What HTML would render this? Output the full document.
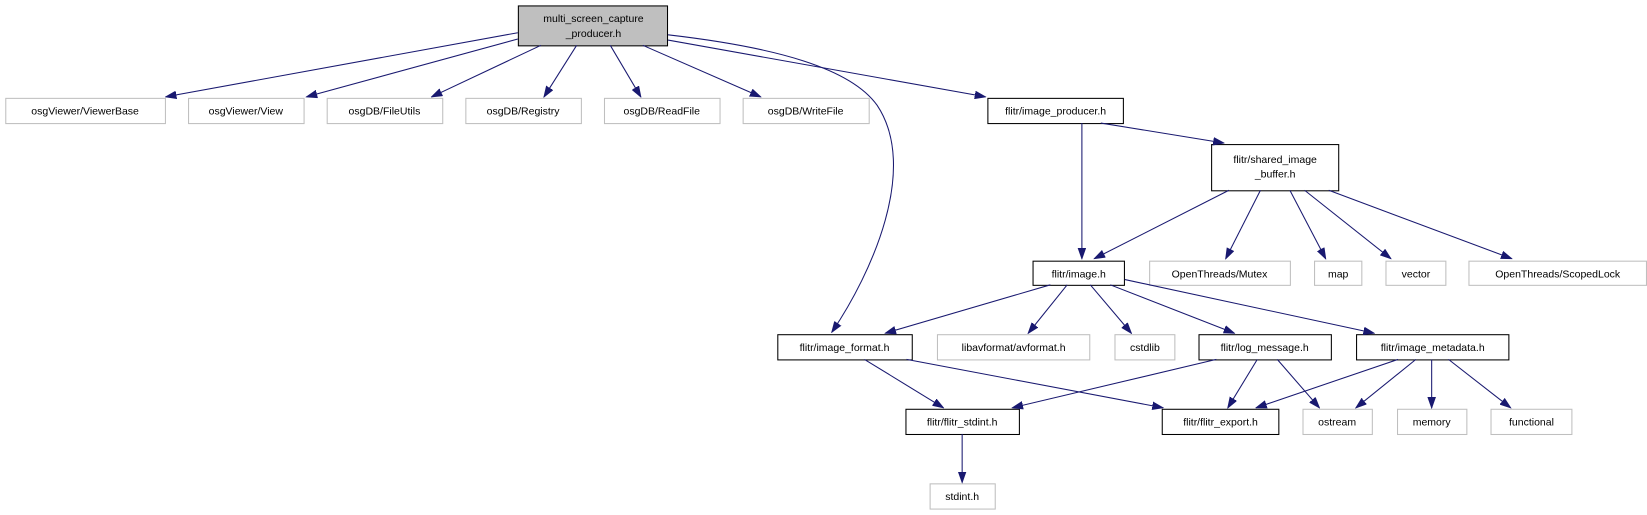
<!DOCTYPE html>
<html><head><meta charset="utf-8"><style>
html,body{margin:0;padding:0;background:#fff;}
svg{display:block;}
text{font-family:"Liberation Sans",sans-serif;font-size:10px;fill:#000;text-anchor:middle;}
.g{fill:#fff;stroke:#bfbfbf;stroke-width:1;}
.b{fill:#fff;stroke:#000;stroke-width:1;}
.e{stroke:#191970;stroke-width:1;fill:none;marker-end:url(#a);}
</style></head><body>
<svg width="1647" height="515" viewBox="0 0 1568 490" xmlns="http://www.w3.org/2000/svg">
<defs><marker id="a" markerUnits="userSpaceOnUse" markerWidth="11" markerHeight="8" refX="10" refY="4" orient="auto"><path d="M0,0.5 L10,4 L0,7.5 z" fill="#191970" stroke="#191970"/></marker></defs>
<rect x="493.5" y="5.5" width="142" height="38" fill="#bfbfbf" stroke="#000"/>
<text x="565" y="21">multi_screen_capture</text><text x="565" y="35">_producer.h</text>
<rect class="g" x="5.5" y="93.5" width="152" height="24"/><text x="81" y="109">osgViewer/ViewerBase</text>
<rect class="g" x="179.5" y="93.5" width="110" height="24"/><text x="234" y="109">osgViewer/View</text>
<rect class="g" x="311.5" y="93.5" width="110" height="24"/><text x="366" y="109">osgDB/FileUtils</text>
<rect class="g" x="443.5" y="93.5" width="110" height="24"/><text x="498" y="109">osgDB/Registry</text>
<rect class="g" x="575.5" y="93.5" width="110" height="24"/><text x="630" y="109">osgDB/ReadFile</text>
<rect class="g" x="707.5" y="93.5" width="120" height="24"/><text x="767" y="109">osgDB/WriteFile</text>
<rect class="b" x="940.5" y="93.5" width="129" height="24"/><text x="1005" y="109">flitr/image_producer.h</text>
<rect class="b" x="1153.5" y="137.5" width="121" height="44"/><text x="1214" y="155">flitr/shared_image</text><text x="1214" y="169">_buffer.h</text>
<rect class="b" x="983.5" y="248.5" width="87" height="23"/><text x="1027" y="264">flitr/image.h</text>
<rect class="g" x="1094.5" y="248.5" width="134" height="23"/><text x="1161" y="264">OpenThreads/Mutex</text>
<rect class="g" x="1251.5" y="248.5" width="45" height="23"/><text x="1274" y="264">map</text>
<rect class="g" x="1319.5" y="248.5" width="57" height="23"/><text x="1348" y="264">vector</text>
<rect class="g" x="1398.5" y="248.5" width="169" height="23"/><text x="1483" y="264">OpenThreads/ScopedLock</text>
<rect class="b" x="740.5" y="318.5" width="128" height="24"/><text x="804" y="334">flitr/image_format.h</text>
<rect class="g" x="892.5" y="318.5" width="145" height="24"/><text x="965" y="334">libavformat/avformat.h</text>
<rect class="g" x="1061.5" y="318.5" width="57" height="24"/><text x="1090" y="334">cstdlib</text>
<rect class="b" x="1141.5" y="318.5" width="126" height="24"/><text x="1204" y="334">flitr/log_message.h</text>
<rect class="b" x="1291.5" y="318.5" width="145" height="24"/><text x="1364" y="334">flitr/image_metadata.h</text>
<rect class="b" x="862.5" y="389.5" width="108" height="24"/><text x="916" y="405">flitr/flitr_stdint.h</text>
<rect class="b" x="1106.5" y="389.5" width="111" height="24"/><text x="1162" y="405">flitr/flitr_export.h</text>
<rect class="g" x="1240.5" y="389.5" width="66" height="24"/><text x="1273" y="405">ostream</text>
<rect class="g" x="1330.5" y="389.5" width="66" height="24"/><text x="1363" y="405">memory</text>
<rect class="g" x="1419.5" y="389.5" width="77" height="24"/><text x="1458" y="405">functional</text>
<rect class="g" x="885.5" y="460.5" width="62" height="24"/><text x="916" y="476">stdint.h</text>
<path class="e" d="M493,31 L158,92"/>
<path class="e" d="M493,37 L292,92"/>
<path class="e" d="M515,43 L411,92"/>
<path class="e" d="M549,43 L518,92"/>
<path class="e" d="M581,43 L610,92"/>
<path class="e" d="M612,43 L724,92"/>
<path class="e" d="M636,38 L938,92"/>
<path class="e" d="M636,33 C740,45 810,65 835,100 C875,160 830,260 792,316"/>
<path class="e" d="M1030,117 L1030,246"/>
<path class="e" d="M1048,117 L1165,136"/>
<path class="e" d="M1170,181 L1042,246"/>
<path class="e" d="M1200,181 L1167,246"/>
<path class="e" d="M1228,181 L1262,246"/>
<path class="e" d="M1242,181 L1324,246"/>
<path class="e" d="M1265,181 L1439,246"/>
<path class="e" d="M1000,271 L843,317"/>
<path class="e" d="M1016,271 L979,317"/>
<path class="e" d="M1038,271 L1077,317"/>
<path class="e" d="M1057,271 L1175,317"/>
<path class="e" d="M1071,266 L1308,317"/>
<path class="e" d="M823,342 L898,388"/>
<path class="e" d="M863,342 L1107,388"/>
<path class="e" d="M1158,342 L964,388"/>
<path class="e" d="M1197,342 L1169,388"/>
<path class="e" d="M1216,342 L1256,388"/>
<path class="e" d="M1331,342 L1196,388"/>
<path class="e" d="M1348,342 L1291,388"/>
<path class="e" d="M1363,342 L1363,388"/>
<path class="e" d="M1379,342 L1438,388"/>
<path class="e" d="M916,413 L916,459"/>
</svg>
</body></html>
